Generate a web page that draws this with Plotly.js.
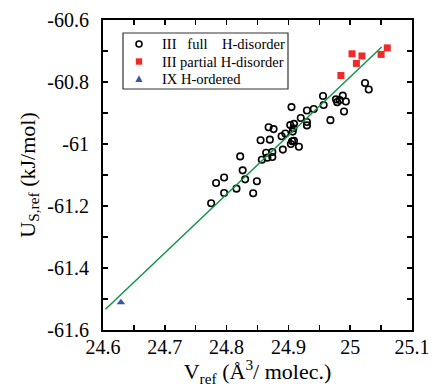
<!DOCTYPE html>
<html>
<head>
<meta charset="utf-8">
<script src="https://cdn.plot.ly/plotly-3.0.1.min.js"></script>
<style>html,body{margin:0;padding:0;background:#fff;}#chart{width:433px;height:387px;}</style>
</head>
<body>
<div id="chart"></div>
<script>
// Phase III, full H-disorder
const fullV = [24.775,24.783,24.796,24.796,24.816,24.822,24.826,24.830,24.843,24.849,
  24.855,24.857,24.864,24.866,24.868,24.870,24.874,24.874,24.876,24.889,
  24.891,24.895,24.903,24.904,24.905,24.906,24.907,24.908,24.909,24.909,
  24.917,24.920,24.930,24.930,24.930,24.941,24.956,24.957,24.968,24.977,
  24.979,24.983,24.988,24.990,24.993,25.024,25.030];
const fullU = [-61.191,-61.126,-61.108,-61.158,-61.144,-61.040,-61.085,-61.114,-61.159,-61.120,
  -60.988,-61.051,-61.028,-61.044,-60.946,-60.986,-61.026,-61.042,-60.952,-60.975,
  -61.018,-60.966,-60.939,-61.000,-60.881,-60.991,-60.960,-60.949,-60.935,-60.990,
  -61.009,-60.916,-60.892,-60.929,-60.940,-60.887,-60.845,-60.874,-60.923,-60.856,
  -60.865,-60.858,-60.844,-60.895,-60.863,-60.803,-60.824];
// Phase III, partial H-disorder
const partV = [24.985,25.003,25.010,25.019,25.050,25.060];
const partU = [-60.779,-60.709,-60.740,-60.716,-60.711,-60.690];
// Phase IX, H-ordered
const ixV = [24.629];
const ixU = [-61.511];
// Linear fit line
const fitV = [24.604,25.051];
const fitU = [-61.533,-60.687];

const xTicks = [24.6,24.7,24.8,24.9,25,25.1];
const yTicks = [-61.6,-61.4,-61.2,-61,-60.8,-60.6];
const seriesNames = ['III\u00a0\u00a0\u00a0full\u00a0\u00a0\u00a0\u00a0H-disorder',
                     'III partial H-disorder', 'IX H-ordered'];
const seriesColors = ['#000000', '#ee2a2a', '#3a56a8'];

const serif = 'Liberation Serif';
const traces = [
  {x: fullV, y: fullU, mode: 'markers', type: 'scatter', name: seriesNames[0],
   marker: {symbol: 'circle-open', size: 6.5, color: seriesColors[0], line: {width: 1.6, color: seriesColors[0]}}},
  {x: partV, y: partU, mode: 'markers', type: 'scatter', name: seriesNames[1],
   marker: {symbol: 'square', size: 7, color: seriesColors[1]}},
  {x: ixV, y: ixU, mode: 'markers', type: 'scatter', name: seriesNames[2],
   marker: {symbol: 'triangle-up', size: 7.5, color: seriesColors[2]}},
  {x: fitV, y: fitU, mode: 'lines', type: 'scatter', name: 'fit',
   line: {color: '#14934a', width: 1.5}}
];

// plot area in pixels: x 103..412, y 20..330
const PX = v => (v - 103) / 309;
const PY = v => (330 - v) / 310;

const legendRows = [44, 61.5, 79];
const annotations = seriesNames.map((n, i) => ({
  xref: 'paper', yref: 'paper', x: PX(160), y: PY(legendRows[i]),
  xanchor: 'left', yanchor: 'middle', showarrow: false, text: n,
  font: {family: serif, size: 14.5, color: '#000'}
}));
const shapes = [
  {type: 'rect', xref: 'paper', yref: 'paper', x0: PX(123), x1: PX(288), y0: PY(33), y1: PY(89),
   line: {color: '#333', width: 1.2}, fillcolor: '#fff', layer: 'below'},
  {type: 'circle', xref: 'paper', yref: 'paper', xsizemode: 'pixel', ysizemode: 'pixel',
   xanchor: PX(139), yanchor: PY(legendRows[0]), x0: -3, x1: 3, y0: -3, y1: 3,
   line: {color: seriesColors[0], width: 1.6}},
  {type: 'rect', xref: 'paper', yref: 'paper', xsizemode: 'pixel', ysizemode: 'pixel',
   xanchor: PX(139), yanchor: PY(legendRows[1]), x0: -3.2, x1: 3.2, y0: -3.2, y1: 3.2,
   line: {width: 0}, fillcolor: seriesColors[1]},
  {type: 'path', xref: 'paper', yref: 'paper', xsizemode: 'pixel', ysizemode: 'pixel',
   xanchor: PX(139), yanchor: PY(legendRows[2]), path: 'M -3.6 -3 L 3.6 -3 L 0 3.8 Z',
   line: {width: 0}, fillcolor: seriesColors[2]}
];

const axCommon = {
  showline: true, linewidth: 2, linecolor: '#000', mirror: 'ticks',
  ticks: 'inside', ticklen: 5, tickwidth: 1.5, tickcolor: '#000',
  showgrid: false, zeroline: false,
  tickfont: {family: serif, size: 20, color: '#000'}
};

const layout = {
  width: 433, height: 387,
  margin: {l: 103, r: 21, t: 20, b: 57},
  paper_bgcolor: '#fff', plot_bgcolor: '#fff',
  font: {family: serif, color: '#000'},
  showlegend: false,
  annotations: annotations,
  shapes: shapes,
  xaxis: Object.assign({}, axCommon, {
    range: [24.6, 25.1], tickvals: xTicks, ticktext: xTicks.map(String),
    minor: {ticks: 'inside', dtick: 0.05, tick0: 24.6, ticklen: 5, tickwidth: 1.5, tickcolor: '#000'},
    ticklabelstandoff: -2,
    title: {text: 'V<sub>ref</sub> (Å<sup>3</sup>/ molec.)', font: {family: serif, size: 22}, standoff: 2}
  }),
  yaxis: Object.assign({}, axCommon, {
    range: [-61.6, -60.6], tickvals: yTicks, ticktext: yTicks.map(String),
    minor: {ticks: 'inside', dtick: 0.1, tick0: -61.6, ticklen: 5, tickwidth: 1.5, tickcolor: '#000'},
    ticklabelstandoff: 8,
    title: {text: 'U<sub>S,ref</sub> (kJ/mol)', font: {family: serif, size: 22}, standoff: 6}
  })
};

Plotly.newPlot('chart', traces, layout, {displayModeBar: false, staticPlot: true});
</script>
</body>
</html>
